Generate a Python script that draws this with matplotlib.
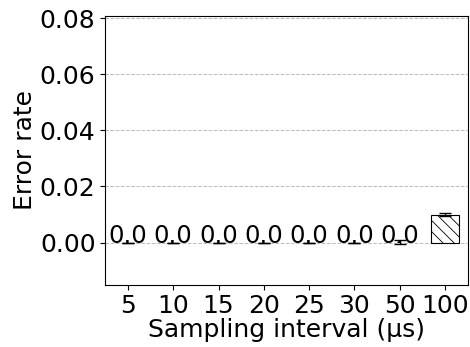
import numpy as np
import matplotlib
matplotlib.use('Agg')
import matplotlib.pyplot as plt

# data
intervals = ['5', '10', '15', '20', '25', '30', '50', '100']
error_rate = [0.0, 0.0, 0.0, 0.0, 0.0, 0.0, 0.0002, 0.0100]
error_std = [0.0, 0.0, 0.0, 0.0, 0.0, 0.0, 0.0006, 0.0004]
bar_labels = ['0.0', '0.0', '0.0', '0.0', '0.0', '0.0', '0.0', '']

plt.rcParams['font.family'] = 'DejaVu Sans'
plt.rcParams['hatch.linewidth'] = 0.6

fig, ax = plt.subplots(figsize=(4.7, 3.47), dpi=100)
x = np.arange(len(intervals))

ax.set_axisbelow(True)
ax.yaxis.grid(True, linestyle='--', color='#bbbbbb', linewidth=0.7)
edge_w = [0.8 if v > 0.001 else 0.0 for v in error_rate]
ax.bar(x, error_rate, width=0.6, color='white', edgecolor='black', hatch='\\\\\\',
       linewidth=edge_w, yerr=error_std, capsize=4, error_kw={'elinewidth': 1, 'capthick': 1})

for i in range(len(intervals)):
    ax.text(x[i], -0.0003, bar_labels[i], ha='center', va='baseline', fontsize=17.5)

ax.set_xticks(x)
ax.set_xticklabels(intervals)
ax.set_xlim(-0.5, 7.5)
ax.set_ylim(-0.015, 0.081)
ax.set_yticks([0.0, 0.02, 0.04, 0.06, 0.08])
ax.tick_params(labelsize=18)
ax.set_xlabel('Sampling interval (μs)', fontsize=18, labelpad=0)
ax.set_ylabel('Error rate', fontsize=18, labelpad=2)

plt.subplots_adjust(left=0.224, right=0.995, top=0.955, bottom=0.18)
plt.savefig('out.png', dpi=100)
